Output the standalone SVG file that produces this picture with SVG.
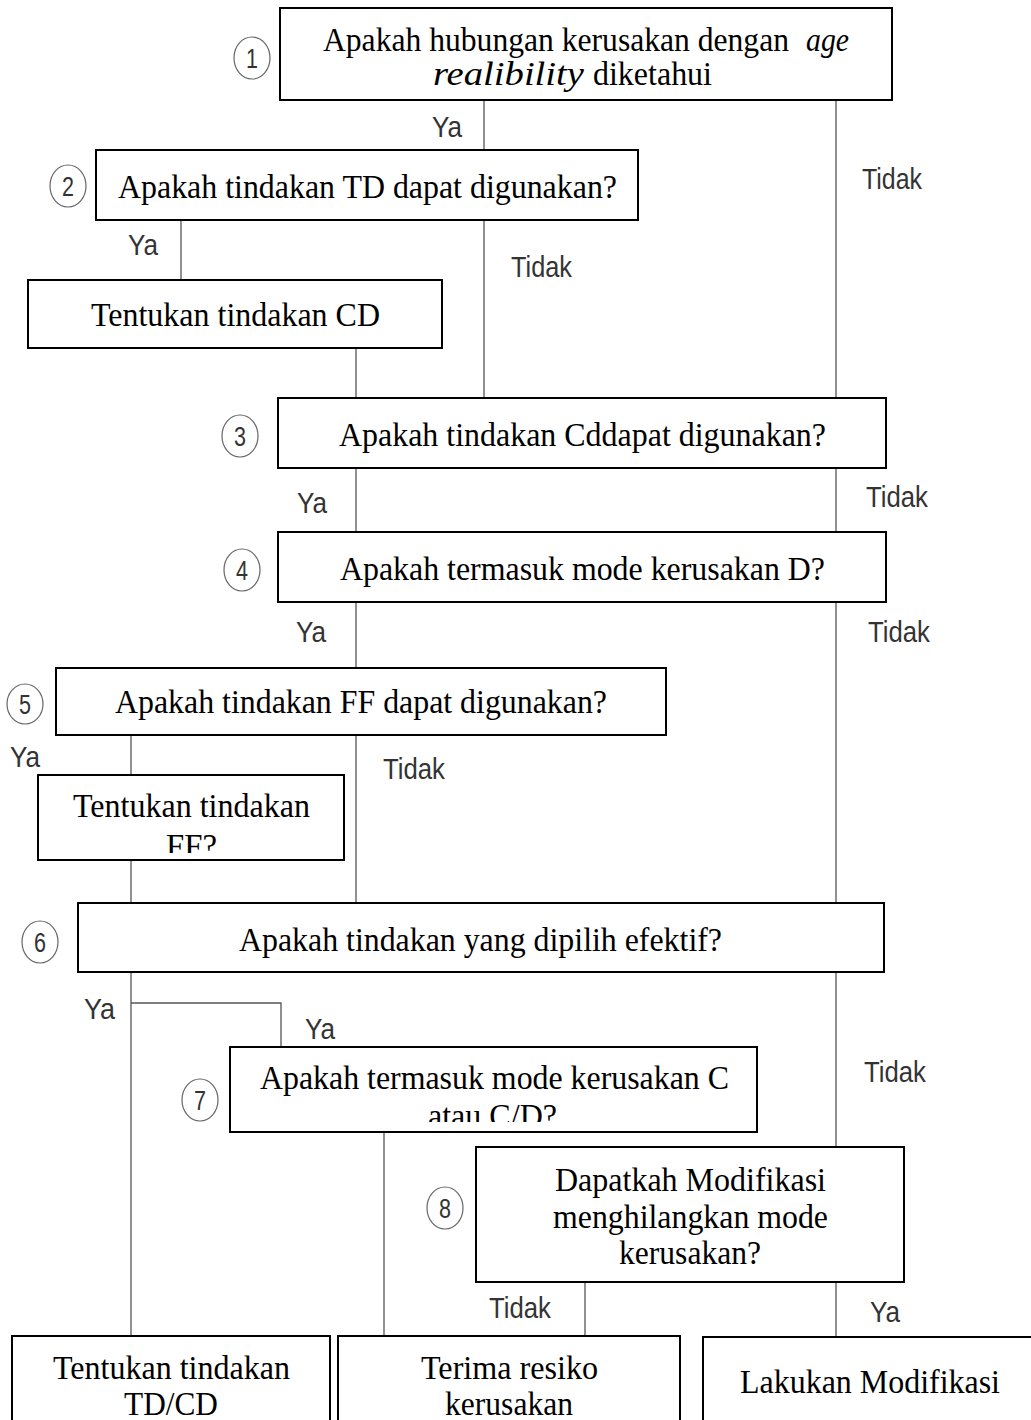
<svg xmlns="http://www.w3.org/2000/svg" width="1031" height="1420" viewBox="0 0 1031 1420">
<style>
.box{fill:#fff;stroke:#000;stroke-width:2}
.conn line,.conn path{stroke:#555;stroke-width:1.3;fill:none}
.t{font-family:"Liberation Serif","Times New Roman",serif;font-size:33px;fill:#000}
.i{font-style:italic}
.lbl{font-family:"Liberation Sans Narrow","Arial Narrow","Liberation Sans",sans-serif;font-size:29px;fill:#333}
.num text{font-family:"Liberation Sans Narrow","Liberation Sans",sans-serif;font-size:27px;fill:#333;text-anchor:middle}
</style>
<defs>
<clipPath id="clipFF"><rect x="38" y="775" width="306" height="78"/></clipPath>
<clipPath id="clip7"><rect x="230" y="1047" width="527" height="75"/></clipPath>
</defs>
<rect width="1031" height="1420" fill="#fff"/>
<g class="conn" id="connectors">
<line x1="484" y1="100" x2="484" y2="150"/>
<line x1="836" y1="100" x2="836" y2="398"/>
<line x1="181" y1="220" x2="181" y2="280"/>
<line x1="484" y1="220" x2="484" y2="398"/>
<line x1="356" y1="348" x2="356" y2="398"/>
<line x1="356" y1="468" x2="356" y2="532"/>
<line x1="836" y1="468" x2="836" y2="532"/>
<line x1="356" y1="602" x2="356" y2="668"/>
<line x1="836" y1="602" x2="836" y2="903"/>
<line x1="131" y1="735" x2="131" y2="775"/>
<line x1="356" y1="735" x2="356" y2="903"/>
<line x1="131" y1="860" x2="131" y2="903"/>
<line x1="131" y1="972" x2="131" y2="1336"/>
<path d="M131 1003 H281 V1047"/>
<line x1="836" y1="972" x2="836" y2="1147"/>
<line x1="384" y1="1132" x2="384" y2="1336"/>
<line x1="585" y1="1282" x2="585" y2="1336"/>
<line x1="836" y1="1282" x2="836" y2="1336"/>
</g>
<g id="labels">
<text class="lbl" x="432" y="137" textLength="30" lengthAdjust="spacingAndGlyphs">Ya</text>
<text class="lbl" x="862" y="189" textLength="60" lengthAdjust="spacingAndGlyphs">Tidak</text>
<text class="lbl" x="128" y="255" textLength="30" lengthAdjust="spacingAndGlyphs">Ya</text>
<text class="lbl" x="511" y="277" textLength="61" lengthAdjust="spacingAndGlyphs">Tidak</text>
<text class="lbl" x="297" y="513" textLength="30" lengthAdjust="spacingAndGlyphs">Ya</text>
<text class="lbl" x="866" y="507" textLength="62" lengthAdjust="spacingAndGlyphs">Tidak</text>
<text class="lbl" x="296" y="642" textLength="30" lengthAdjust="spacingAndGlyphs">Ya</text>
<text class="lbl" x="868" y="642" textLength="62" lengthAdjust="spacingAndGlyphs">Tidak</text>
<text class="lbl" x="10" y="767" textLength="30" lengthAdjust="spacingAndGlyphs">Ya</text>
<text class="lbl" x="383" y="779" textLength="62" lengthAdjust="spacingAndGlyphs">Tidak</text>
<text class="lbl" x="84" y="1019" textLength="31" lengthAdjust="spacingAndGlyphs">Ya</text>
<text class="lbl" x="305" y="1039" textLength="30" lengthAdjust="spacingAndGlyphs">Ya</text>
<text class="lbl" x="864" y="1082" textLength="62" lengthAdjust="spacingAndGlyphs">Tidak</text>
<text class="lbl" x="489" y="1318" textLength="62" lengthAdjust="spacingAndGlyphs">Tidak</text>
<text class="lbl" x="870" y="1322" textLength="30" lengthAdjust="spacingAndGlyphs">Ya</text>
</g>
<g id="node1">
<rect class="box" x="280" y="8" width="612" height="92"/>
<text class="t" x="323" y="51" textLength="466" lengthAdjust="spacingAndGlyphs">Apakah hubungan kerusakan dengan</text>
<text class="t i" x="806" y="51" textLength="43" lengthAdjust="spacingAndGlyphs">age</text>
<text class="t i" x="433" y="85" textLength="151" lengthAdjust="spacingAndGlyphs">realibility</text>
<text class="t" x="593" y="85" textLength="119" lengthAdjust="spacingAndGlyphs">diketahui</text>
<g class="num"><ellipse cx="252" cy="58" rx="18" ry="21" fill="#fff" stroke="#666" stroke-width="1.2"/><text x="252" y="68" textLength="12" lengthAdjust="spacingAndGlyphs">1</text></g>
</g>
<g id="node2">
<rect class="box" x="96" y="150" width="542" height="70"/>
<text class="t" x="118" y="198" textLength="499" lengthAdjust="spacingAndGlyphs">Apakah tindakan TD dapat digunakan?</text>
<g class="num"><ellipse cx="68" cy="186" rx="18" ry="21" fill="#fff" stroke="#666" stroke-width="1.2"/><text x="68" y="196" textLength="12" lengthAdjust="spacingAndGlyphs">2</text></g>
</g>
<g id="nodeCD">
<rect class="box" x="28" y="280" width="414" height="68"/>
<text class="t" x="91" y="326" textLength="289" lengthAdjust="spacingAndGlyphs">Tentukan tindakan CD</text>
</g>
<g id="node3">
<rect class="box" x="278" y="398" width="608" height="70"/>
<text class="t" x="339" y="446" textLength="487" lengthAdjust="spacingAndGlyphs">Apakah tindakan Cddapat digunakan?</text>
<g class="num"><ellipse cx="240" cy="436" rx="18" ry="21" fill="#fff" stroke="#666" stroke-width="1.2"/><text x="240" y="446" textLength="12" lengthAdjust="spacingAndGlyphs">3</text></g>
</g>
<g id="node4">
<rect class="box" x="278" y="532" width="608" height="70"/>
<text class="t" x="340" y="580" textLength="485" lengthAdjust="spacingAndGlyphs">Apakah termasuk mode kerusakan D?</text>
<g class="num"><ellipse cx="242" cy="570" rx="18" ry="21" fill="#fff" stroke="#666" stroke-width="1.2"/><text x="242" y="580" textLength="12" lengthAdjust="spacingAndGlyphs">4</text></g>
</g>
<g id="node5">
<rect class="box" x="56" y="668" width="610" height="67"/>
<text class="t" x="115" y="713" textLength="492" lengthAdjust="spacingAndGlyphs">Apakah tindakan FF dapat digunakan?</text>
<g class="num"><ellipse cx="25" cy="704" rx="18" ry="20" fill="#fff" stroke="#666" stroke-width="1.2"/><text x="25" y="714" textLength="12" lengthAdjust="spacingAndGlyphs">5</text></g>
</g>
<g id="nodeFF">
<rect class="box" x="38" y="775" width="306" height="85"/>
<text class="t" x="73" y="817" textLength="237" lengthAdjust="spacingAndGlyphs">Tentukan tindakan</text>
<text class="t" x="166" y="857" textLength="51" lengthAdjust="spacingAndGlyphs" clip-path="url(#clipFF)">FF?</text>
</g>
<g id="node6">
<rect class="box" x="78" y="903" width="806" height="69"/>
<text class="t" x="239" y="951" textLength="483" lengthAdjust="spacingAndGlyphs">Apakah tindakan yang dipilih efektif?</text>
<g class="num"><ellipse cx="40" cy="942" rx="18" ry="21" fill="#fff" stroke="#666" stroke-width="1.2"/><text x="40" y="952" textLength="12" lengthAdjust="spacingAndGlyphs">6</text></g>
</g>
<g id="node7">
<rect class="box" x="230" y="1047" width="527" height="85"/>
<text class="t" x="260" y="1089" textLength="469" lengthAdjust="spacingAndGlyphs">Apakah termasuk mode kerusakan C</text>
<text class="t" x="428" y="1127" textLength="129" lengthAdjust="spacingAndGlyphs" clip-path="url(#clip7)">atau C/D?</text>
<g class="num"><ellipse cx="200" cy="1100" rx="18" ry="21" fill="#fff" stroke="#666" stroke-width="1.2"/><text x="200" y="1110" textLength="12" lengthAdjust="spacingAndGlyphs">7</text></g>
</g>
<g id="node8">
<rect class="box" x="476" y="1147" width="428" height="135"/>
<text class="t" x="555" y="1191" textLength="271" lengthAdjust="spacingAndGlyphs">Dapatkah Modifikasi</text>
<text class="t" x="553" y="1228" textLength="275" lengthAdjust="spacingAndGlyphs">menghilangkan mode</text>
<text class="t" x="619" y="1264" textLength="142" lengthAdjust="spacingAndGlyphs">kerusakan?</text>
<g class="num"><ellipse cx="445" cy="1208" rx="18" ry="21" fill="#fff" stroke="#666" stroke-width="1.2"/><text x="445" y="1218" textLength="12" lengthAdjust="spacingAndGlyphs">8</text></g>
</g>
<g id="nodeTDCD">
<rect class="box" x="12" y="1336" width="318" height="100"/>
<text class="t" x="53" y="1379" textLength="237" lengthAdjust="spacingAndGlyphs">Tentukan tindakan</text>
<text class="t" x="124" y="1415" textLength="94" lengthAdjust="spacingAndGlyphs">TD/CD</text>
</g>
<g id="nodeTerima">
<rect class="box" x="338" y="1336" width="342" height="100"/>
<text class="t" x="421" y="1379" textLength="177" lengthAdjust="spacingAndGlyphs">Terima resiko</text>
<text class="t" x="445" y="1415" textLength="128" lengthAdjust="spacingAndGlyphs">kerusakan</text>
</g>
<g id="nodeModif">
<rect class="box" x="703" y="1337" width="340" height="100"/>
<text class="t" x="740" y="1393" textLength="260" lengthAdjust="spacingAndGlyphs">Lakukan Modifikasi</text>
</g>
</svg>
